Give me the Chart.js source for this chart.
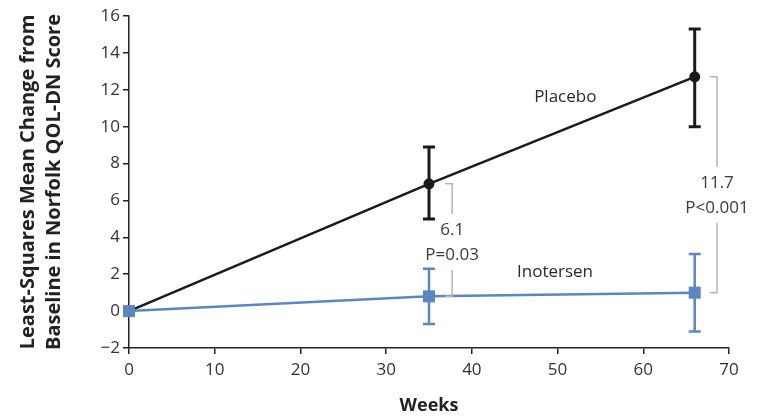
<!DOCTYPE html>
<html>
<head>
<meta charset="utf-8">
<script src="https://cdn.jsdelivr.net/npm/chart.js@4.4.1/dist/chart.umd.min.js"></script>
<style>
  html, body { margin: 0; padding: 0; background: #fff; }
  #wrap { width: 758px; height: 419px; position: relative; }
</style>
</head>
<body>
<div id="wrap"><canvas id="chart"></canvas></div>
<script>
// values
const weeks = [0, 35, 66];
const placeboMean = [0, 6.9, 12.7];
const placeboLow = [0, 5.0, 10.0];
const placeboHigh = [0, 8.9, 15.3];
const inotersenMean = [0, 0.8, 1.0];
const inotersenLow = [0, -0.7, -1.1];
const inotersenHigh = [0, 2.3, 3.1];

// treatment difference brackets
const diffWeeks = [35, 66];
const diffTop = [6.9, 12.7];
const diffBottom = [0.8, 1.0];
const diffLabels = [['6.1', 'P=0.03'], ['11.7', 'P<0.001']];

const seriesNames = ['Placebo', 'Inotersen'];

const BLACK = '#1a1a1a';
const BLUE = '#5b86c4';
const FONT = "'Open Sans', 'DejaVu Sans', sans-serif";

const toPoints = (xs, ys) => xs.map((x, i) => ({ x: x, y: ys[i] }));

const extrasPlugin = {
  id: 'extras',
  beforeDatasetsDraw(chart) {
    const { ctx, scales: { x, y } } = chart;
    const bars = [
      { low: placeboLow, high: placeboHigh, color: BLACK, width: 3 },
      { low: inotersenLow, high: inotersenHigh, color: BLUE, width: 2.5 }
    ];
    ctx.save();
    bars.forEach(b => {
      ctx.strokeStyle = b.color;
      ctx.lineWidth = b.width;
      weeks.forEach((w, i) => {
        if (b.low[i] === b.high[i]) return;
        const px = x.getPixelForValue(w);
        const y1 = y.getPixelForValue(b.low[i]);
        const y2 = y.getPixelForValue(b.high[i]);
        ctx.beginPath();
        ctx.moveTo(px, y1); ctx.lineTo(px, y2);
        ctx.moveTo(px - 6, y1); ctx.lineTo(px + 6, y1);
        ctx.moveTo(px - 6, y2); ctx.lineTo(px + 6, y2);
        ctx.stroke();
      });
    });
    ctx.restore();
  },
  afterDatasetsDraw(chart) {
    const { ctx, scales: { x, y } } = chart;
    ctx.save();
    // brackets
    const bracketOffset = [2.7, 2.6];
    const textShift = [2, 10];
    ctx.font = '17px ' + FONT;
    ctx.textAlign = 'center';
    ctx.textBaseline = 'middle';
    diffWeeks.forEach((w, i) => {
      const bx = x.getPixelForValue(w + bracketOffset[i]);
      const yt = y.getPixelForValue(diffTop[i]);
      const yb = y.getPixelForValue(diffBottom[i]);
      const mid = (yt + yb) / 2 + textShift[i];
      ctx.strokeStyle = '#b5b5b5';
      ctx.lineWidth = 1.5;
      ctx.beginPath();
      ctx.moveTo(bx - 7, yt); ctx.lineTo(bx, yt); ctx.lineTo(bx, mid - 28);
      ctx.moveTo(bx, mid + 28); ctx.lineTo(bx, yb); ctx.lineTo(bx - 7, yb);
      ctx.stroke();
      ctx.fillStyle = '#3a3a3a';
      ctx.fillText(diffLabels[i][0], bx, mid - 12);
      ctx.fillText(diffLabels[i][1], bx, mid + 13);
    });
    // series labels
    ctx.fillStyle = '#2a2a2a';
    ctx.fillText(seriesNames[0], x.getPixelForValue(50.9), y.getPixelForValue(11.6));
    ctx.fillText(seriesNames[1], x.getPixelForValue(49.7), y.getPixelForValue(2.1));
    ctx.restore();
  }
};

new Chart(document.getElementById('chart'), {
  type: 'scatter',
  data: {
    datasets: [
      {
        label: seriesNames[1],
        data: toPoints(weeks, inotersenMean),
        showLine: true,
        clip: false,
        borderColor: BLUE,
        backgroundColor: BLUE,
        borderWidth: 2.5,
        pointStyle: 'rect',
        pointRadius: 8.5,
        pointBorderWidth: 0
      },
      {
        label: seriesNames[0],
        data: toPoints(weeks, placeboMean),
        showLine: true,
        clip: false,
        borderColor: BLACK,
        backgroundColor: BLACK,
        borderWidth: 2.5,
        pointStyle: 'circle',
        pointRadius: 5.5,
        pointBorderWidth: 0
      }
    ]
  },
  options: {
    responsive: true,
    maintainAspectRatio: false,
    animation: false,
    layout: { padding: { left: 15, right: 29, top: 16, bottom: 0 } },
    scales: {
      x: {
        type: 'linear',
        min: 0,
        max: 70,
        ticks: { stepSize: 10, color: '#333', font: { family: FONT, size: 17 }, padding: 6 },
        grid: { drawOnChartArea: false, drawTicks: true, tickLength: 6, color: '#222', lineWidth: 1.5 },
        border: { display: true, color: '#222', width: 1.5 },
        title: { display: true, text: 'Weeks', color: '#222', font: { family: FONT, size: 18, weight: 'bold' }, padding: { top: 0, bottom: 2 } },
        afterFit: s => { s.height = 71; }
      },
      y: {
        min: -2,
        max: 16,
        ticks: {
          stepSize: 2,
          color: '#333',
          font: { family: FONT, size: 17 },
          padding: 3,
          callback: v => String(v).replace('-', '\u2212')
        },
        grid: { drawOnChartArea: false, drawTicks: true, tickLength: 6, color: '#222', lineWidth: 1.5 },
        border: { display: true, color: '#222', width: 1.5 },
        title: {
          display: true,
          text: ['Least-Squares Mean Change from', 'Baseline in Norfolk QOL-DN Score'],
          color: '#222',
          font: { family: FONT, size: 20, weight: 'bold', lineHeight: 1.3 },
          padding: { top: 0, bottom: 0 }
        },
        afterFit: s => { s.width = 114; }
      }
    },
    plugins: {
      legend: { display: false },
      tooltip: { enabled: false }
    }
  },
  plugins: [extrasPlugin]
});
</script>
</body>
</html>
